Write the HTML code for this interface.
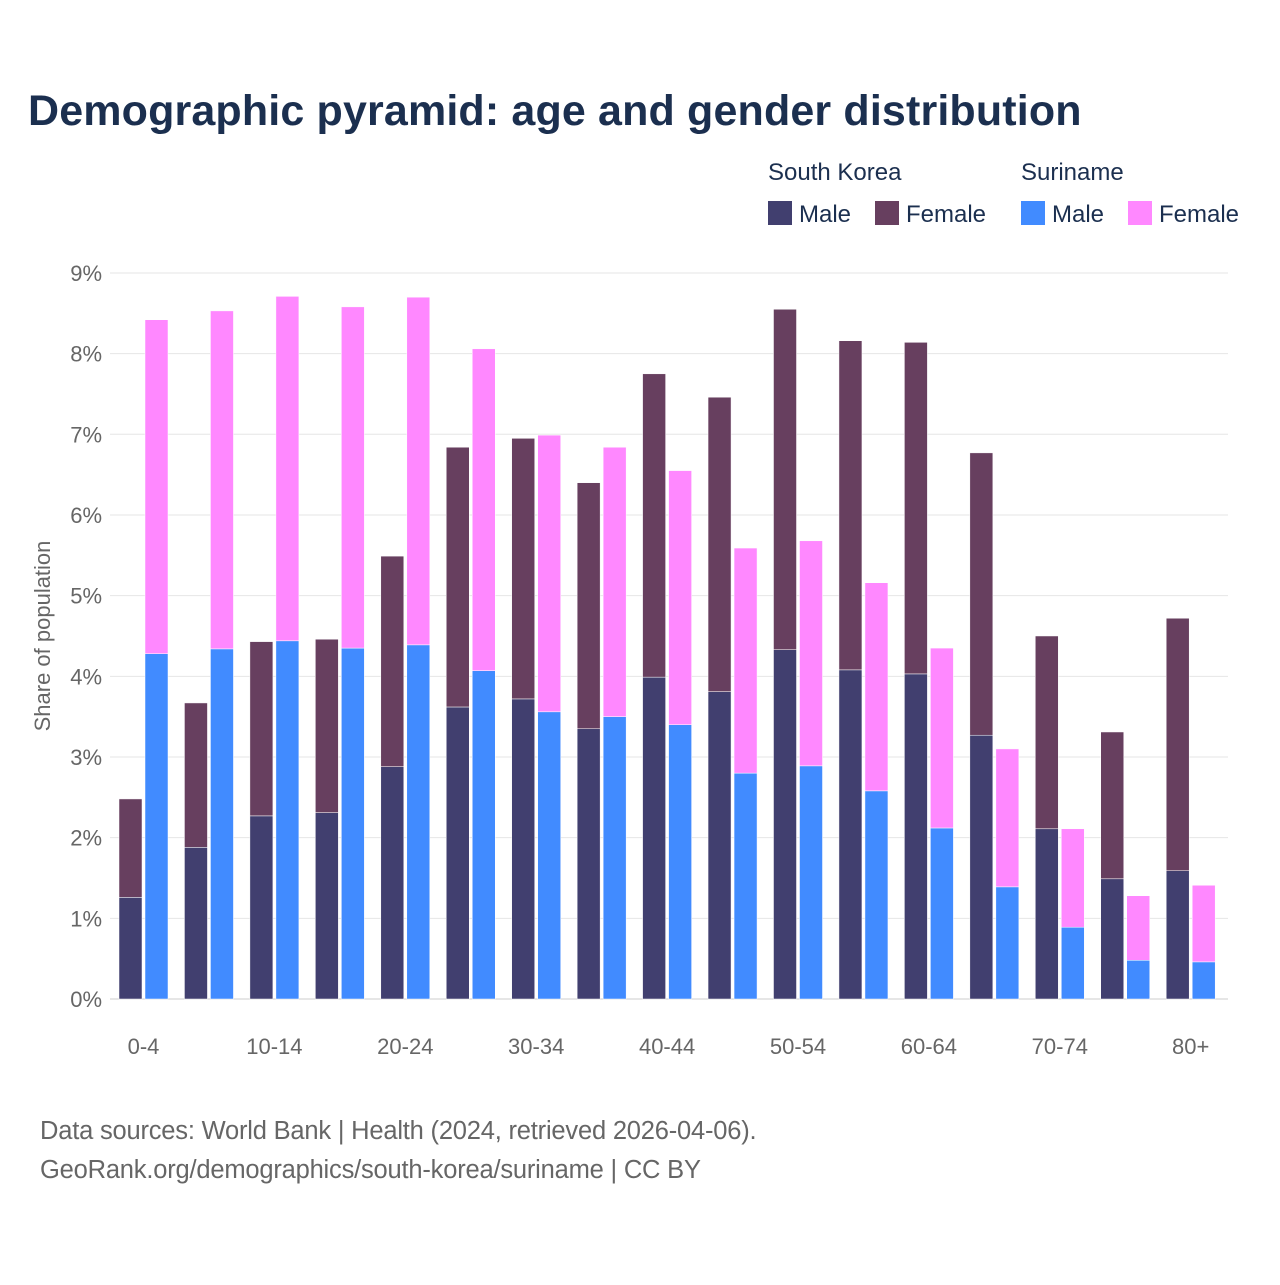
<!DOCTYPE html>
<html><head><meta charset="utf-8"><style>
body{margin:0;background:#fff;font-family:"Liberation Sans",sans-serif;}
svg text{font-family:"Liberation Sans",sans-serif;}
</style></head><body>
<svg id="chart" width="1280" height="1280" xmlns="http://www.w3.org/2000/svg">
<rect width="1280" height="1280" fill="#fff"/>
<text x="28" y="125" font-size="43" font-weight="bold" fill="#1b2f4f" letter-spacing="0.15">Demographic pyramid: age and gender distribution</text>
<g>
<text x="768" y="180" font-size="24" fill="#1b2f4f">South Korea</text>
<text x="1021" y="180" font-size="24" fill="#1b2f4f">Suriname</text>
<rect x="768" y="201" width="24" height="24" fill="#413f6f"/>
<text x="799" y="222" font-size="24" fill="#1b2f4f">Male</text>
<rect x="875" y="201" width="24" height="24" fill="#673f5f"/>
<text x="906" y="222" font-size="24" fill="#1b2f4f">Female</text>
<rect x="1021" y="201" width="24" height="24" fill="#418bff"/>
<text x="1052" y="222" font-size="24" fill="#1b2f4f">Male</text>
<rect x="1128" y="201" width="24" height="24" fill="#ff88ff"/>
<text x="1159" y="222" font-size="24" fill="#1b2f4f">Female</text>
</g>
<text transform="translate(50,636) rotate(-90)" text-anchor="middle" font-size="22" fill="#666">Share of population</text>
<g id="grid"></g><g id="bars"></g><g id="xt"></g>
<text x="40" y="1139" font-size="25.5" fill="#666" letter-spacing="-0.2">Data sources: World Bank | Health (2024, retrieved 2026-04-06).</text>
<text x="40" y="1178" font-size="25.5" fill="#666" letter-spacing="-0.2">GeoRank.org/demographics/south-korea/suriname | CC BY</text>
</svg>
<script>
const categories=["0-4","5-9","10-14","15-19","20-24","25-29","30-34","35-39","40-44","45-49","50-54","55-59","60-64","65-69","70-74","75-79","80+"];
const skMale=[1.26,1.88,2.27,2.31,2.88,3.62,3.72,3.35,3.99,3.81,4.33,4.08,4.03,3.27,2.11,1.49,1.59];
const skFemale=[1.22,1.79,2.16,2.15,2.61,3.22,3.23,3.05,3.76,3.65,4.22,4.08,4.11,3.50,2.39,1.82,3.13];
const srMale=[4.28,4.34,4.44,4.35,4.39,4.07,3.56,3.50,3.40,2.80,2.89,2.58,2.12,1.39,0.89,0.48,0.46];
const srFemale=[4.14,4.19,4.27,4.23,4.31,3.99,3.43,3.34,3.15,2.79,2.79,2.58,2.23,1.71,1.22,0.80,0.95];
const yTicks=[0,1,2,3,4,5,6,7,8,9];
const xLabels=["0-4","","10-14","","20-24","","30-34","","40-44","","50-54","","60-64","","70-74","","80+"];
const NS="http://www.w3.org/2000/svg";
const y=v=>999-v*80.67;
const xc=i=>143.5+i*65.45;
function mk(t,a,p){const e=document.createElementNS(NS,t);for(const k in a)e.setAttribute(k,a[k]);p.appendChild(e);return e;}
const grid=document.getElementById('grid'),bars=document.getElementById('bars'),xt=document.getElementById('xt');
yTicks.forEach(t=>{
 const l=mk('line',{x1:110,x2:1228,y1:y(t),y2:y(t),stroke:t===0?'#ccc':'#e6e6e6','stroke-width':1},grid);
 
 
 const tx=mk('text',{x:102,y:y(t)+8,'text-anchor':'end','font-size':22,fill:'#666'},grid);
 tx.textContent=t+'%';
 
 
});
function bar(x,v0,v1,c,n){const r=mk('rect',{x:x,y:y(v1),width:23,height:y(v0)-y(v1),fill:c,stroke:'#fff','stroke-width':0.5},bars);
 
 }
categories.forEach((c,i)=>{
 const x=xc(i);
 bar(x-24.5,0,skMale[i],'#413f6f','bar-sk-male-'+c);
 bar(x-24.5,skMale[i],skMale[i]+skFemale[i],'#673f5f','bar-sk-female-'+c);
 bar(x+1.5,0,srMale[i],'#418bff','bar-sr-male-'+c);
 bar(x+1.5,srMale[i],srMale[i]+srFemale[i],'#ff88ff','bar-sr-female-'+c);
 if(xLabels[i]){const t=mk('text',{x:x,y:1054,'text-anchor':'middle','font-size':22,fill:'#666'},xt);t.textContent=xLabels[i];
 
 }
});
</script>
</body></html>
